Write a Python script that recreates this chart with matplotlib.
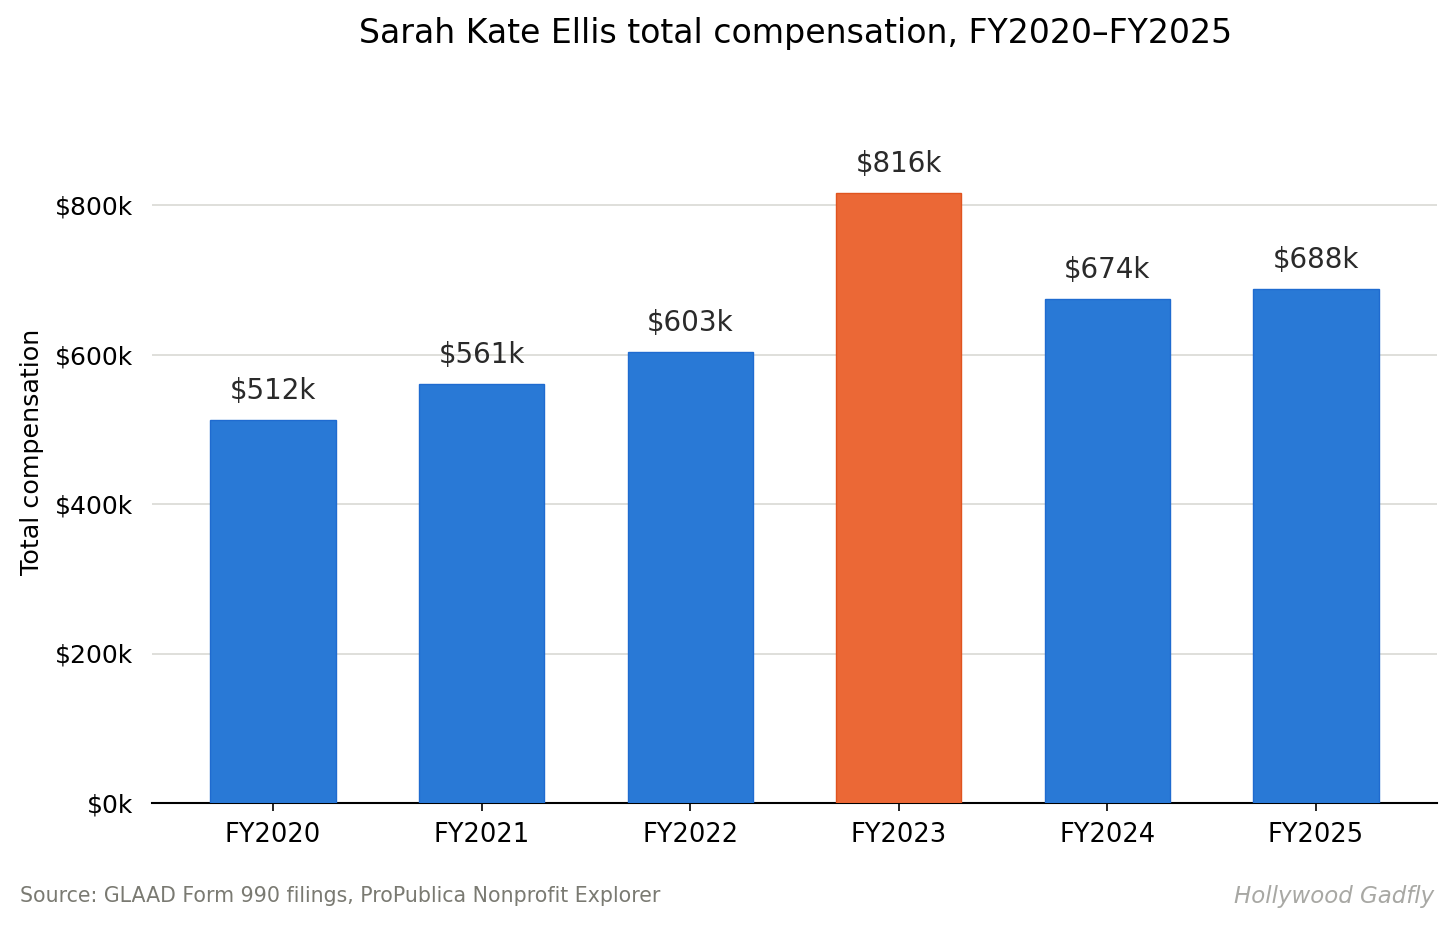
import matplotlib
matplotlib.use("Agg")
from matplotlib import pyplot as plt
import numpy as np

years = ["FY2020", "FY2021", "FY2022", "FY2023", "FY2024", "FY2025"]
comp_k = [512, 561, 603, 816, 674, 688]
highlight = "FY2023"

blue = "#2979d6"
orange = "#eb6836"
colors = [orange if y == highlight else blue for y in years]
edges = ["#e0541f" if y == highlight else "#1f6bd0" for y in years]

fig = plt.figure(figsize=(14.56, 9.26), dpi=100)
ax = fig.add_axes([152 / 1456, 1 - 803 / 926, (1437 - 152) / 1456, (803 - 100) / 926])

x = np.arange(len(years))
ax.bar(x, comp_k, width=0.6, color=colors, edgecolor=edges, linewidth=1, zorder=3)

for xi, v in zip(x, comp_k):
    ax.text(xi, v + 20, f"${v}k", ha="center", va="bottom", fontsize=20, color="#2a2a2a")

# 800k sits 598 px above the baseline
ax.set_ylim(0, 703 / (598 / 800))
ax.set_yticks([0, 200, 400, 600, 800])
ax.set_yticklabels(["$0k", "$200k", "$400k", "$600k", "$800k"])
ax.set_xticks(x)
ax.set_xticklabels(years)
ax.tick_params(axis="y", length=0, pad=13.5, labelsize=18)
ax.tick_params(axis="x", length=6, width=1.2, pad=8, labelsize=18.5)
ax.grid(axis="y", color="#d9d9d4", linewidth=1.2, zorder=0)

for s in ["top", "right", "left"]:
    ax.spines[s].set_visible(False)
ax.spines["bottom"].set_linewidth(1.5)

ax.set_ylabel("Total compensation", fontsize=18.3)
ax.yaxis.set_label_coords(-0.084, 0.5)

fig.suptitle("Sarah Kate Ellis total compensation, FY2020\u2013FY2025", fontsize=23.9, x=0.5465,
             y=1 - 33 / 926, va="center")
fig.text(20 / 1456, 1 - 896 / 926, "Source: GLAAD Form 990 filings, ProPublica Nonprofit Explorer",
         fontsize=14.8, color="#7a7a72", va="center")
fig.text(1434 / 1456, 1 - 896 / 926, "Hollywood Gadfly", fontsize=16.5, color="#a8a8a4",
         style="italic", ha="right", va="center")

fig.savefig("out.png", dpi=100)
